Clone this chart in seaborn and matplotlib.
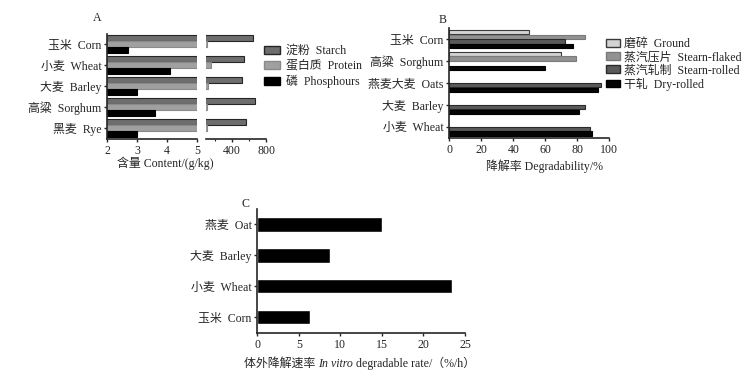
import numpy as np
import pandas as pd
import matplotlib
matplotlib.use("Agg")
import matplotlib.pyplot as plt
import seaborn as sns
from matplotlib.patches import Patch

# ---------------- data ----------------
a_cats = ["玉米  Corn", "小麦  Wheat", "大麦  Barley", "高粱  Sorghum", "黑麦  Rye"]
a_series = ["淀粉  Starch", "蛋白质  Protein", "磷  Phosphours"]
a_starch = [647, 541, 518, 670, 565]
a_protein = [106, 153, 126, 106, 112]
a_phos = [2.7, 4.1, 3.0, 3.6, 3.0]

b_cats = ["玉米  Corn", "高粱  Sorghum", "燕麦大麦  Oats", "大麦  Barley", "小麦  Wheat"]
b_series = ["磨碎  Ground", "蒸汽压片  Stearn-flaked", "蒸汽轧制  Stearn-rolled", "干轧  Dry-rolled"]
b_ground = [50, 70, np.nan, np.nan, np.nan]
b_flaked = [85, 79, np.nan, np.nan, np.nan]
b_rolled = [72, np.nan, 94.5, 85, 88]
b_dry = [77, 60, 93, 81, 89]

c_cats = ["燕麦  Oat", "大麦  Barley", "小麦  Wheat", "玉米  Corn"]
c_rate = [15.0, 8.7, 23.4, 6.3]

# ---------------- style ----------------
sns.set_style("ticks")
FAM = ["Liberation Serif", "Noto Sans CJK SC"]
FS = 8.6
plt.rcParams["font.family"] = FAM
plt.rcParams["font.size"] = FS
plt.rcParams["axes.linewidth"] = 1.2
plt.rcParams["xtick.major.size"] = 2.5
plt.rcParams["ytick.major.size"] = 2.5
plt.rcParams["xtick.major.width"] = 1.0
plt.rcParams["ytick.major.width"] = 1.0
plt.rcParams["xtick.major.pad"] = 2
plt.rcParams["ytick.major.pad"] = 1.5
plt.rcParams["xtick.labelsize"] = FS
plt.rcParams["ytick.labelsize"] = FS

W, H = 753, 377
fig = plt.figure(figsize=(W / 100, H / 100), dpi=100)


def rect(x0, x1, y0, y1):
    return [x0 / W, 1 - y1 / H, (x1 - x0) / W, (y1 - y0) / H]


a_fill = ["#6e6e6e", "#a0a0a0", "#000000"]
a_edge = ["#262626", "#8a8a8a", "#000000"]
b_fill = ["#d4d4d4", "#929292", "#5a5a5a", "#050505"]
b_edge = ["#3a3a3a", "#7a7a7a", "#2a2a2a", "#000000"]

# ---------------- panel A (broken axis) ----------------
dfa = pd.DataFrame({
    "cat": a_cats * 3,
    "series": sum([[s] * len(a_cats) for s in a_series], []),
    "val": a_starch + a_protein + a_phos,
})
axA1 = fig.add_axes(rect(107, 197, 33.5, 138.5))
axA2 = fig.add_axes(rect(206, 266, 33.5, 138.5))
for ax in (axA1, axA2):
    sns.barplot(data=dfa, y="cat", x="val", hue="series", order=a_cats,
                hue_order=a_series, palette=a_fill, orient="h", width=0.85,
                errorbar=None, legend=False, saturation=1, ax=ax)
    for cont, ec in zip(ax.containers, a_edge):
        for p in cont:
            p.set_edgecolor(ec)
            p.set_linewidth(0.8)
    ax.set_ylabel("")
    ax.set_xlabel("")
    ax.set_ylim(4.5, -0.5)
    for s in ("top", "right"):
        ax.spines[s].set_visible(False)
axA1.set_xlim(2, 5)
axA1.set_xticks([2, 3, 4, 5])
axA2.set_xlim(100, 800)
axA2.set_xticks([400, 800])
axA2.set_xticks([200, 600], minor=True)
axA2.tick_params(axis="x", which="minor", length=1.5, width=0.8)
axA2.spines["left"].set_visible(False)
axA2.tick_params(axis="y", left=False, labelleft=False)
fig.text(165 / W, 1 - 163 / H, "含量 Content/(g/kg)", ha="center", va="center", fontsize=FS)
fig.text(97 / W, 1 - 18 / H, "A", ha="center", va="center", fontsize=FS)
hA = [Patch(facecolor=f, edgecolor=e, linewidth=1.0) for f, e in zip(a_fill, a_edge)]
fig.legend(hA, a_series, loc="upper left", bbox_to_anchor=(264 / W, 1 - 45 / H),
           frameon=False, handlelength=1.3, handleheight=0.6, handletextpad=0.5,
           labelspacing=0.25, borderpad=0, borderaxespad=0, fontsize=FS)

# ---------------- panel B ----------------
dfb = pd.DataFrame({
    "cat": b_cats * 4,
    "series": sum([[s] * len(b_cats) for s in b_series], []),
    "val": b_ground + b_flaked + b_rolled + b_dry,
})
axB = fig.add_axes(rect(449.3, 609.3, 28.4, 137.6))
sns.barplot(data=dfb, y="cat", x="val", hue="series", order=b_cats,
            hue_order=b_series, palette=b_fill, orient="h", width=0.88,
            errorbar=None, legend=False, saturation=1, ax=axB)
for cont, ec in zip(axB.containers, b_edge):
    for p in cont:
        p.set_edgecolor(ec)
        p.set_linewidth(0.8)
        p.set_height(p.get_height() * 0.9)
axB.set_xlim(0, 100)
axB.set_xticks([0, 20, 40, 60, 80, 100])
axB.set_ylim(4.5, -0.5)
axB.set_ylabel("")
axB.set_xlabel("")
for s in ("top", "right"):
    axB.spines[s].set_visible(False)
fig.text(545 / W, 1 - 166 / H, "降解率 Degradability/%", ha="center", va="center", fontsize=FS)
fig.text(443 / W, 1 - 20 / H, "B", ha="center", va="center", fontsize=FS)
hB = [Patch(facecolor=f, edgecolor=e, linewidth=1.0) for f, e in zip(b_fill, b_edge)]
fig.legend(hB, b_series, loc="upper left", bbox_to_anchor=(606 / W, 1 - 38 / H),
           frameon=False, handlelength=1.2, handleheight=0.6, handletextpad=0.3,
           labelspacing=0.1, borderpad=0, borderaxespad=0, fontsize=FS)

# ---------------- panel C ----------------
dfc = pd.DataFrame({"cat": c_cats, "val": c_rate})
axC = fig.add_axes(rect(257.3, 465, 208.9, 332.5))
sns.barplot(data=dfc, y="cat", x="val", order=c_cats, color="black",
            orient="h", width=0.47, errorbar=None, saturation=1, ax=axC)
axC.set_xlim(0, 25)
axC.set_xticks([0, 5, 10, 15, 20, 25])
axC.set_ylim(3.5, -0.5)
axC.set_ylabel("")
axC.set_xlabel("")
for s in ("top", "right"):
    axC.spines[s].set_visible(False)
fig.text(245 / W, 1 - 204 / H, "C", ha="center", va="center", fontsize=FS)

# composite x label for C with italic part
fig.canvas.draw()
r = fig.canvas.get_renderer()
x = 244 / W
yl = 1 - 367 / H
parts = [("体外降解速率 ", "normal"), ("In vitro", "italic"), (" degradable rate/（%/h）", "normal")]
for txt, style in parts:
    t = fig.text(x, yl, txt, ha="left", va="baseline", fontsize=FS, style=style)
    bb = t.get_window_extent(renderer=r)
    x += bb.width / (W)

fig.savefig("out.png", dpi=100)
